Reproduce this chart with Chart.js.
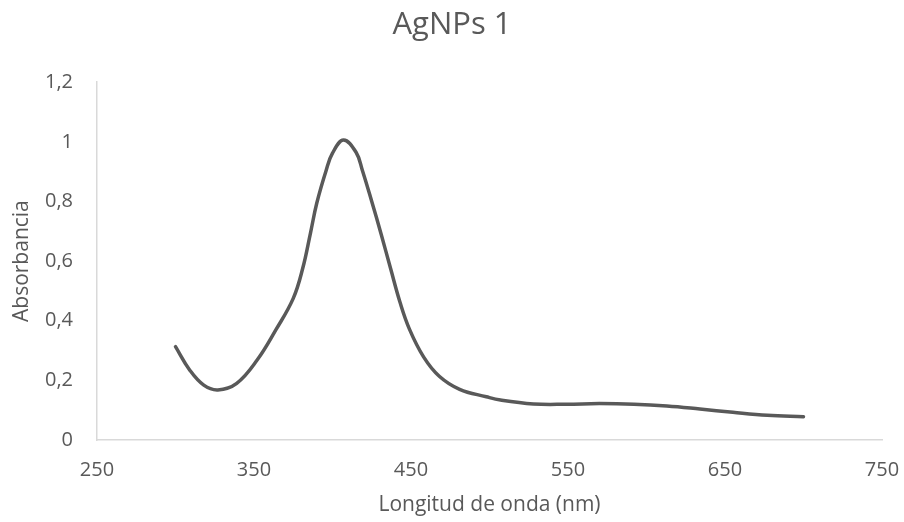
<!DOCTYPE html>
<html>
<head>
<meta charset="utf-8">
<script src="https://cdn.jsdelivr.net/npm/chart.js@4/dist/chart.umd.min.js"></script>
<style>
  html, body { margin: 0; padding: 0; background: #ffffff; }
  #wrap { width: 904px; height: 522px; position: relative; }
</style>
</head>
<body>
<div id="wrap"><canvas id="c" width="904" height="522"></canvas></div>
<script>
const chartTitle = "AgNPs 1";
const xAxisTitle = "Longitud de onda (nm)";
const yAxisTitle = "Absorbancia";

const wavelengths = [300, 309, 318, 327, 339, 352, 364, 375, 381, 386, 390, 396, 400, 407, 415, 419, 425, 431, 437, 443, 449, 458, 468, 481, 498, 507, 528, 549, 570, 592, 613, 634, 655, 677, 700];
const absorbance  = [0.313, 0.235, 0.184, 0.168, 0.190, 0.268, 0.370, 0.475, 0.575, 0.695, 0.795, 0.905, 0.962, 1.006, 0.965, 0.905, 0.800, 0.690, 0.575, 0.462, 0.372, 0.279, 0.214, 0.170, 0.145, 0.134, 0.121, 0.120, 0.122, 0.120, 0.114, 0.104, 0.093, 0.083, 0.078];

const xMin = 250, xMax = 750, xStep = 100;
const yMin = 0, yMax = 1.2, yStep = 0.2;

const textColor = "#595959";
const axisColor = "#d9d9d9";
const fontFamily = "'Open Sans', 'Noto Sans', sans-serif";

const points = wavelengths.map((w, i) => ({ x: w, y: absorbance[i] }));

new Chart(document.getElementById("c"), {
  type: "line",
  data: {
    datasets: [{
      data: points,
      borderColor: "#595959",
      borderWidth: 3.5,
      pointRadius: 0,
      fill: false,
      tension: 0.4,
      borderCapStyle: "round",
      borderJoinStyle: "round"
    }]
  },
  options: {
    responsive: false,
    animation: false,
    devicePixelRatio: 1,
    layout: { padding: { left: 8, right: 8, top: 0, bottom: 0 } },
    plugins: {
      legend: { display: false },
      tooltip: { enabled: false },
      title: {
        display: true,
        text: chartTitle,
        color: textColor,
        font: { family: fontFamily, size: 31, weight: "normal", lineHeight: 1.2 },
        padding: { top: 7, bottom: 38 }
      }
    },
    scales: {
      x: {
        type: "linear",
        min: xMin,
        max: xMax,
        ticks: {
          stepSize: xStep,
          color: textColor,
          font: { family: fontFamily, size: 20 },
          padding: 18,
          maxRotation: 0
        },
        grid: { display: false, drawTicks: false, tickLength: 0 },
        border: { display: true, color: axisColor, width: 1.5 },
        title: {
          display: true,
          text: xAxisTitle,
          color: textColor,
          font: { family: fontFamily, size: 21, lineHeight: 1.2 },
          padding: { top: 0, bottom: 4 }
        },
        afterFit: (s) => { s.height = 82; s.paddingRight = 22; s.paddingLeft = 0; }
      },
      y: {
        type: "linear",
        min: yMin,
        max: yMax,
        ticks: {
          stepSize: yStep,
          color: textColor,
          font: { family: fontFamily, size: 20 },
          padding: 24,
          callback: (v) => String(Math.round(v * 10) / 10).replace(".", ",")
        },
        grid: { display: false, drawTicks: false, tickLength: 0 },
        border: { display: true, color: axisColor, width: 1.5 },
        title: {
          display: true,
          text: yAxisTitle,
          color: textColor,
          font: { family: fontFamily, size: 21, lineHeight: 1.2 },
          padding: { top: 1, bottom: 0 }
        },
        afterFit: (s) => { s.width = 89; }
      }
    }
  }
});
</script>
</body>
</html>
